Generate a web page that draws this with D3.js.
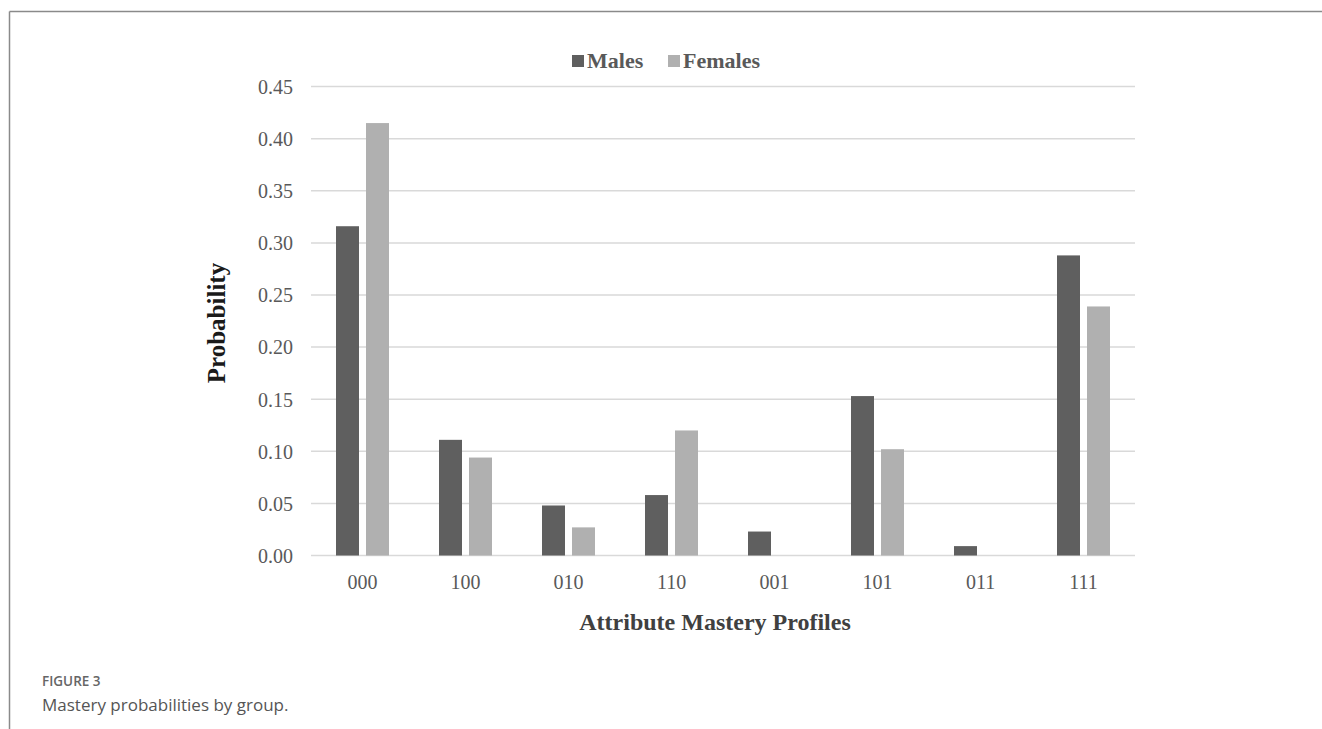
<!DOCTYPE html>
<html>
<head>
<meta charset="utf-8">
<script src="https://cdn.jsdelivr.net/npm/d3@7/dist/d3.min.js"></script>
<style>
  html, body { margin: 0; padding: 0; background: #fff; }
  svg { display: block; }
</style>
</head>
<body>
<svg id="chart" width="1322" height="729"></svg>
<script>
// Attribute mastery profiles and class probabilities per group
const profiles = ["000", "100", "010", "110", "001", "101", "011", "111"];
const series = ["Males", "Females"];
const males = [0.316, 0.111, 0.048, 0.058, 0.023, 0.153, 0.009, 0.288];
const females = [0.415, 0.094, 0.027, 0.120, 0.000, 0.102, 0.000, 0.239];
const yTicks = [0, 0.05, 0.10, 0.15, 0.20, 0.25, 0.30, 0.35, 0.40, 0.45];
const colors = ["#5f5f5f", "#b0b0b0"];

const rows = profiles.map((p, i) => ({ profile: p, values: [males[i], females[i]] }));

const svg = d3.select("#chart");
const serif = "'Liberation Serif', 'Times New Roman', serif";

// Figure frame (top and left rules)
svg.append("line").attr("x1", 9.5).attr("x2", 1322).attr("y1", 11.5).attr("y2", 11.5)
  .attr("stroke", "#8a8a8a").attr("stroke-width", 1.5);
svg.append("line").attr("x1", 9.5).attr("x2", 9.5).attr("y1", 11.5).attr("y2", 729)
  .attr("stroke", "#8a8a8a").attr("stroke-width", 1.5);

const plot = { left: 311, right: 1135, top: 86.6, bottom: 555.5 };

const y = d3.scaleLinear().domain([0, 0.45]).range([plot.bottom, plot.top]);
const x0 = d3.scaleBand().domain(profiles).range([plot.left, plot.right]).padding(0);
const bw = x0.bandwidth();
const x1 = d3.scaleBand().domain(series).range([bw * 0.2427, bw * 0.7573]).paddingInner(0.2333);

// Horizontal gridlines
svg.append("g")
  .selectAll("line")
  .data(yTicks)
  .join("line")
  .attr("x1", plot.left).attr("x2", plot.right)
  .attr("y1", d => y(d)).attr("y2", d => y(d))
  .attr("stroke", "#d9d9d9").attr("stroke-width", 1.5);

// Y axis labels
const yAxis = d3.axisLeft(y).tickValues(yTicks).tickFormat(d3.format(".2f")).tickSize(0).tickPadding(0);
const gy = svg.append("g").attr("transform", `translate(293,0)`).call(yAxis);
gy.select(".domain").remove();
gy.selectAll("text")
  .attr("font-family", serif).attr("font-size", 20).attr("fill", "#595959")
  .attr("dy", "0.34em");

// Bars
const groups = svg.append("g")
  .selectAll("g")
  .data(rows)
  .join("g")
  .attr("transform", d => `translate(${x0(d.profile)},0)`);

groups.selectAll("rect")
  .data(d => d.values.map((v, i) => ({ key: series[i], value: v, idx: i })))
  .join("rect")
  .attr("x", d => x1(d.key))
  .attr("width", x1.bandwidth())
  .attr("y", d => y(d.value))
  .attr("height", d => plot.bottom - y(d.value))
  .attr("fill", d => colors[d.idx]);

// X axis labels
const xAxis = d3.axisBottom(x0).tickSize(0).tickPadding(0);
const gx = svg.append("g").attr("transform", `translate(0,${plot.bottom + 19})`).call(xAxis);
gx.select(".domain").remove();
gx.selectAll("text")
  .attr("font-family", serif).attr("font-size", 20).attr("fill", "#595959")
  .attr("dy", "0.71em");

// Axis titles
svg.append("text")
  .attr("transform", `translate(225,${(plot.top + plot.bottom) / 2 + 2}) rotate(-90)`)
  .attr("text-anchor", "middle")
  .attr("font-family", serif).attr("font-weight", "bold").attr("font-size", 25)
  .attr("fill", "#1a1a1a")
  .text("Probability");

svg.append("text")
  .attr("x", (plot.left + plot.right) / 2 - 8)
  .attr("y", 630)
  .attr("text-anchor", "middle")
  .attr("font-family", serif).attr("font-weight", "bold").attr("font-size", 24)
  .attr("fill", "#404040")
  .text("Attribute Mastery Profiles");

// Legend
const legendPos = [572, 668];
const legend = svg.append("g")
  .selectAll("g")
  .data(series)
  .join("g")
  .attr("transform", (d, i) => `translate(${legendPos[i]},0)`);
legend.append("rect")
  .attr("x", 0).attr("y", 55).attr("width", 12).attr("height", 12)
  .attr("fill", (d, i) => colors[i]);
legend.append("text")
  .attr("x", 15).attr("y", 68)
  .attr("font-family", serif).attr("font-weight", "bold").attr("font-size", 22)
  .attr("fill", "#595959")
  .text(d => d);

// Caption
svg.append("text")
  .attr("x", 42).attr("y", 686)
  .attr("font-family", "'Open Sans', 'Noto Sans', sans-serif").attr("font-size", 13.5)
  .attr("font-weight", 600).attr("fill", "#666")
  .text("FIGURE 3");
svg.append("text")
  .attr("x", 42).attr("y", 711)
  .attr("font-family", "'Open Sans', 'Noto Sans', sans-serif").attr("font-size", 17)
  .attr("fill", "#555")
  .text("Mastery probabilities by group.");
</script>
</body>
</html>
